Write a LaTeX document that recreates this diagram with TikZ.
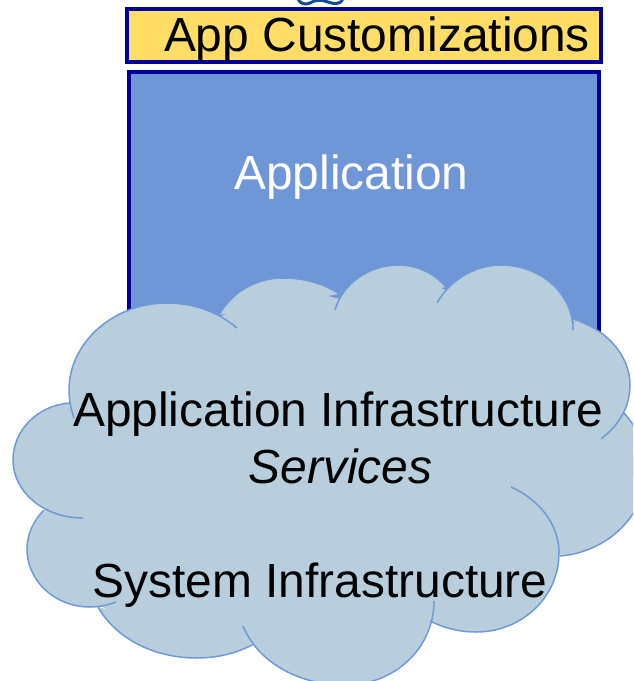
\documentclass[tikz,border=0pt]{standalone}
\usepackage{fontspec}
\setmainfont{Liberation Sans}
\definecolor{boxedge}{HTML}{000099}
\definecolor{boxyellow}{HTML}{FFDD66}
\definecolor{boxblue}{HTML}{6F96D6}
\definecolor{cloudfill}{HTML}{B8CEDC}
\definecolor{cloudedge}{HTML}{7099D8}
\definecolor{squiggle}{HTML}{0F4C96}
\tikzset{
  panel/.style={draw=boxedge,line width=4pt,anchor=north west,inner sep=0pt,outer sep=0pt},
  label/.style={inner sep=0pt,font=\fontsize{47.9}{48}\selectfont,text=black,anchor=base},
  lobe/.style={draw=cloudedge,line width=1.5pt},
}
\def\lobeA{(74,418) .. controls (71,409) and (69,400) .. (69,390) .. controls (69,343) and (113,303) .. (167,303) .. controls (194,303) and (218,312) .. (237,328)}
\def\lobeB{(219,315) .. controls (232,292) and (256,278) .. (283,278) .. controls (305,278) and (325,284) .. (339,294)}
\def\lobeC{(335,310) .. controls (342,285) and (368,265) .. (398,265) .. controls (418,265) and (435,274) .. (446,287)}
\def\lobeD{(437,303) .. controls (449,281) and (474,265) .. (501,265) .. controls (540,265) and (573,293) .. (573,330)}
\def\lobeE{(573,319) .. controls (606,329) and (630,355) .. (630,385) .. controls (630,407) and (619,425) .. (601,439)}
\def\lobeF{(624,413) .. controls (637,427) and (646,448) .. (646,470) .. controls (646,515) and (608,552) .. (560,556)}
\def\lobeG{(511,487) .. controls (540,500) and (559,525) .. (559,553) .. controls (559,597) and (522,632) .. (476,632) .. controls (459,632) and (444,628) .. (430,621)}
\def\lobeH{(434,601) .. controls (434,648) and (395,685) .. (345,685) .. controls (298,685) and (258,662) .. (243,626)}
\def\lobeI{(254,644) .. controls (237,653) and (218,658) .. (197,658) .. controls (152,658) and (115,637) .. (98,607)}
\def\lobeJ{(116,602) .. controls (108,605) and (99,607) .. (90,607) .. controls (55,607) and (27,581) .. (27,549) .. controls (27,534) and (34,520) .. (44,510)}
\def\lobeK{(83,518) .. controls (44,518) and (13,492) .. (13,460) .. controls (13,430) and (38,405) .. (70,403)}
\begin{document}
\begin{tikzpicture}[x=1pt,y=-1pt]
\useasboundingbox (0,0) rectangle (633,681);
\clip (0,0) rectangle (633,681);
% partly hidden squiggle at the top edge
\draw[squiggle,line width=3pt,line cap=round] (298,-1) .. controls (300,4) and (306,5) .. (310,3) .. controls (316,-1) and (322,0) .. (328,2) .. controls (334,4) and (340,5) .. (343,-1);
% panels
\node[panel,fill=boxyellow,minimum width=473.7pt,minimum height=53pt] (custom) at (127,9) {};
\node[panel,fill=boxblue,minimum width=469.7pt,minimum height=300pt] (app) at (129,72) {};
% cloud
\foreach \p in {\lobeA,\lobeB,\lobeC,\lobeD,\lobeE,\lobeF,\lobeG,\lobeH,\lobeI,\lobeJ,\lobeK}{
  \fill[cloudfill] \p -- cycle;
}
\fill[cloudfill] (167,310) -- (220,317) -- (283,285) -- (340,299) -- (398,272) -- (446,290) -- (501,272) -- (572,322) -- (622,385) -- (622,415) -- (638,470) -- (578,549) -- (561,554) -- (550,560) -- (476,625) -- (432,618) -- (345,675) -- (255,642) -- (197,650) -- (100,606) -- (35,550) -- (46,512) -- (20,460) -- (73,406) -- (76,390) -- cycle;
\foreach \p in {\lobeA,\lobeB,\lobeC,\lobeD,\lobeE,\lobeF,\lobeG,\lobeH,\lobeI,\lobeJ,\lobeK}{
  \draw[lobe] \p;
}
% labels
\node[label] (customtext) at (377,51) {App Customizations};
\node[label,text=white] (apptext) at (351.5,189) {Application};
\node[label] (infratext) at (338,426) {Application Infrastructure};
\node[label] (servicestext) at (340.5,483) {\itshape Services};
\node[label] (systemtext) at (320,597) {System Infrastructure};
\end{tikzpicture}
\end{document}
